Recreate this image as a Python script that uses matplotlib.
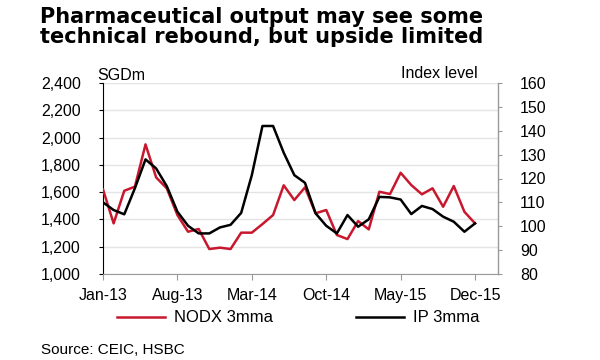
import matplotlib
matplotlib.use("Agg")
import matplotlib.pyplot as plt
from matplotlib.lines import Line2D

plt.rcParams['font.family'] = ['Liberation Sans', 'DejaVu Sans']

tick_labels = ["Jan-13", "Aug-13", "Mar-14", "Oct-14", "May-15", "Dec-15"]
tick_pos = [0, 7, 14, 21, 28, 35]

nodx = [1620, 1371, 1610, 1640, 1950, 1708, 1628, 1432, 1310, 1330, 1183, 1193,
        1183, 1303, 1303, 1366, 1432, 1650, 1542, 1635, 1445, 1469, 1286, 1256,
        1388, 1327, 1603, 1586, 1742, 1652, 1584, 1628, 1493, 1645, 1456, 1371]
ip = [110.0, 106.8, 105.0, 115.9, 128.0, 124.2, 116.8, 106.1, 100.2, 97.0, 97.0, 99.5,
      100.6, 105.6, 121.4, 142.0, 142.0, 130.8, 121.4, 118.2, 105.4, 100.2, 97.0, 104.7,
      99.8, 102.9, 112.3, 112.1, 111.2, 105.1, 108.5, 107.2, 104.0, 101.9, 97.7, 101.2]
months = list(range(len(nodx)))

red = '#c8182e'
fig = plt.figure(figsize=(6, 3.6), dpi=100)
ax = fig.add_axes([103/600, 1-274/360, 395/600, 191/360])
ax2 = ax.twinx()

ax.set_xlim(0, 37.16)
ax.set_ylim(1000, 2400)
ax.set_yticks(range(1000, 2401, 200))
ax.set_yticklabels([f"{v:,}" for v in range(1000, 2401, 200)], fontsize=11.5)
ax.grid(axis='y', color='#e4e4e4', lw=1)
ax.set_axisbelow(True)
ax.set_xticks(tick_pos)
ax.set_xticklabels(tick_labels, fontsize=11.5)

ax2.set_ylim(80, 160)
ax2.set_yticks(range(80, 161, 10))
ax2.set_yticklabels([str(v) for v in range(80, 161, 10)], fontsize=11.5)

ax.plot(months, nodx, color=red, lw=1.8, zorder=3)
ax2.plot(months, ip, color='black', lw=1.8, zorder=3)

for a in (ax, ax2):
    a.spines['top'].set_visible(False)
ax.spines['left'].set_color('black')
ax.spines['bottom'].set_color('#999999')
ax2.spines['left'].set_visible(False)
ax2.spines['bottom'].set_visible(False)
ax2.spines['right'].set_color('#999999')
ax.tick_params(axis='y', length=3, color='black', pad=13)
ax.tick_params(axis='x', length=4, color='#999999', pad=6)
ax2.tick_params(axis='y', length=3, color='#999999', pad=13)

fig.text(40/600, 1-7/360, "Pharmaceutical output may see some\ntechnical rebound, but upside limited",
         fontsize=15, fontweight='bold', va='top', ha='left', linespacing=1.02,
         family='DejaVu Sans')
fig.text(97/600, 1-80/360, "SGDm", fontsize=11.5, va='baseline', ha='left')
fig.text(478/600, 1-78/360, "Index level", fontsize=11.5, va='baseline', ha='right')

handles = [Line2D([], [], color=red, lw=1.8), Line2D([], [], color='black', lw=1.8)]
fig.legend(handles, ["NODX 3mma", "IP 3mma"], loc='center', bbox_to_anchor=(298/600, 1-318/360),
           ncol=2, frameon=False, fontsize=12, handlelength=2.9, handletextpad=0.5,
           columnspacing=5.0)
fig.text(41/600, 1-350/360, "Source: CEIC, HSBC", fontsize=11, va='center', ha='left')

fig.savefig("out.png", dpi=100)
